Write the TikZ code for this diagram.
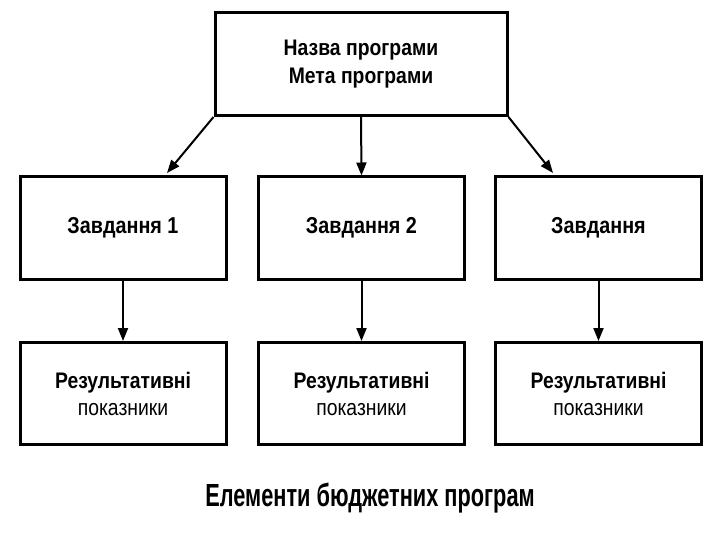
\documentclass[tikz,border=0pt]{standalone}
\usepackage{fontspec}
\setmainfont{Liberation Sans}
\newfontfamily\boxfont[FakeStretch=0.86]{Liberation Sans}
\newfontfamily\capfont[FakeStretch=0.68]{Liberation Sans}
\usetikzlibrary{arrows.meta}
\begin{document}
\begin{tikzpicture}[x=1pt,y=-1pt,
  box/.style={draw=black,line width=3pt,minimum width=206pt,minimum height=102pt,inner sep=0pt,align=center,font=\boxfont\fontsize{23}{27}\selectfont\bfseries},
  conn/.style={line width=2pt,-{Triangle[length=13pt,width=10pt]}}]
\useasboundingbox (0,0) rectangle (720,540);
\node[box,minimum width=292pt,minimum height=103pt,font=\boxfont\fontsize{22.5}{28}\selectfont\bfseries] (top) at (361,64) {Назва програми\\Мета програми};
\node[box] (t1) at (123,228) {Завдання 1};
\node[box] (t2) at (361.5,228) {Завдання 2};
\node[box] (t3) at (598.5,228) {Завдання};
\node[box,font=\boxfont\fontsize{22.5}{27}\selectfont\bfseries] (r1) at (123,393.5) {Результативні\\\mdseries показники};
\node[box,font=\boxfont\fontsize{22.5}{27}\selectfont\bfseries] (r2) at (361.5,393.5) {Результативні\\\mdseries показники};
\node[box,font=\boxfont\fontsize{22.5}{27}\selectfont\bfseries] (r3) at (598.5,393.5) {Результативні\\\mdseries показники};
\coordinate (a1) at (167,173);
\coordinate (a3) at (553,173);
\draw[conn] (top.south west) -- (a1);
\draw[conn] (top.south) -- (t2.north);
\draw[conn] (top.south east) -- (a3);
\draw[conn] (t1.south) -- (r1.north);
\draw[conn] (t2.south) -- (r2.north);
\draw[conn] (t3.south) -- (r3.north);
\node[font=\capfont\fontsize{32}{34}\selectfont\bfseries,inner sep=0pt,anchor=base] (cap) at (370,506) {Елементи бюджетних програм};
\end{tikzpicture}
\end{document}
